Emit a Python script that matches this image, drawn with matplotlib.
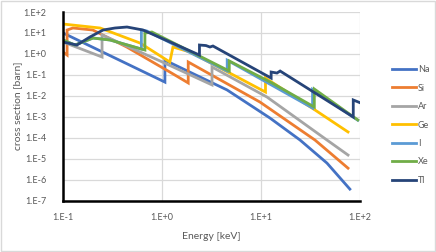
import matplotlib
matplotlib.use("Agg")
import matplotlib.pyplot as plt
from matplotlib.patches import Rectangle

plt.rcParams['font.family'] = ['Lato', 'DejaVu Sans']

# photoabsorption cross sections (energy keV, sigma barn)
na_e = [0.1, 1.07, 1.07, 4.54, 12.3, 24.8, 46.4, 79]
na_s = [10, 0.045, 0.5, 0.019, 8.7e-4, 7.7e-5, 6.1e-6, 3.5e-7]

si_e = [0.1, 0.11, 0.11, 0.126, 0.2, 0.44, 1.2, 1.84, 1.84, 9.77, 35.1, 75.7]
si_s = [1.23, 0.88, 13.8, 17.2, 13.8, 2.13, 0.136, 0.041, 0.41, 0.005, 7.7e-5, 3.5e-6]

ar_e = [0.1, 0.248, 0.248, 0.955, 3.2, 3.2, 11.5, 46.4, 75.7]
ar_s = [3.7, 0.71, 8.0, 0.46, 0.033, 0.236, 0.0087, 7.7e-5, 1.48e-5]

ge_e = [0.1, 0.237, 0.6, 1.2, 1.29, 1.92, 11.1, 11.1, 35.1, 75.7]
ge_s = [26.7, 17.2, 3.3, 0.41, 2.13, 1.23, 0.0151, 0.07, 0.0021, 1.87e-4]

i_e = [0.1, 0.132, 0.201, 0.299, 0.619, 0.619, 0.7, 4.557, 4.557, 33.17, 33.17, 95]
i_s = [4.6, 2.65, 5.7, 4.6, 1.7, 13.8, 12.5, 0.15, 0.5, 0.0026, 0.02, 6.8e-4]

xe_e = [0.1, 0.132, 0.201, 0.299, 0.672, 0.672, 0.79, 4.78, 4.78, 12.9, 34.56, 34.56, 95]
xe_s = [4.6, 2.65, 5.7, 4.6, 1.53, 9.9, 11.1, 0.152, 0.46, 0.041, 0.0029, 0.021, 7.0e-4]

tl_e = [0.1, 0.138, 0.187, 0.254, 0.335, 0.443, 0.643, 2.39, 2.39, 2.78, 3.05, 3.27,
        12.66, 12.66, 14.5, 15.6, 85.5, 85.5, 102]
tl_s = [3.7, 2.65, 6.4, 13.8, 17.2, 19.2, 13.8, 0.88, 2.65, 2.5, 2.13, 2.38,
        0.07, 0.136, 0.122, 0.152, 9.7e-4, 0.0063, 0.0045]

series = [
    ('Na', na_e, na_s, '#4472C4'),
    ('Si', si_e, si_s, '#ED7D31'),
    ('Ar', ar_e, ar_s, '#A5A5A5'),
    ('Ge', ge_e, ge_s, '#FFC000'),
    ('I', i_e, i_s, '#5B9BD5'),
    ('Xe', xe_e, xe_s, '#70AD47'),
    ('Tl', tl_e, tl_s, '#264478'),
]

x_ticks = [0.1, 1, 10, 100]
x_labels = ['1.E-1', '1.E+0', '1.E+1', '1.E+2']
y_ticks = [10.0 ** k for k in range(-7, 3)]
y_labels = ['1.E-7', '1.E-6', '1.E-5', '1.E-4', '1.E-3', '1.E-2', '1.E-1',
            '1.E+0', '1.E+1', '1.E+2']

fig = plt.figure(figsize=(4.36, 2.52), dpi=100)
fig.patches.append(Rectangle((0.002, 0.004), 0.996, 0.992, transform=fig.transFigure,
                             fill=False, edgecolor='#D9D9D9', lw=1))
ax = fig.add_axes([63 / 436, 1 - 200.5 / 252, 297 / 436, 188.5 / 252])

for name, e, s, c in series:
    ax.plot(e, s, color=c, lw=2.0, label=name, solid_joinstyle='miter')

ax.set_xscale('log')
ax.set_yscale('log')
ax.set_xlim(0.1, 100)
ax.set_ylim(1e-7, 100)
ax.set_xticks(x_ticks)
ax.set_xticklabels(x_labels)
ax.set_yticks(y_ticks)
ax.set_yticklabels(y_labels)
ax.minorticks_off()
ax.tick_params(length=0, labelsize=6.5, labelcolor='#595959')
ax.tick_params(axis='x', pad=9)
ax.tick_params(axis='y', pad=12)
ax.grid(True, color='#D9D9D9', lw=0.9)
ax.set_axisbelow(True)
for side in ['top', 'right']:
    ax.spines[side].set_visible(False)
for side in ['left', 'bottom']:
    ax.spines[side].set_linewidth(1.8)
    ax.spines[side].set_color('black')

ax.set_xlabel('Energy [keV]', fontsize=7.5, color='#595959', labelpad=7)
ax.set_ylabel('cross section [barn]', fontsize=7.5, color='#595959')
ax.yaxis.set_label_coords(-41 / 297, 0.5)

fig.legend(loc='center left', bbox_to_anchor=(384 / 436, 1 - 125 / 252), frameon=False,
           fontsize=6.5, handlelength=2.6, handletextpad=0.25, labelspacing=1.05,
           labelcolor='#595959')

fig.savefig('out.png', dpi=100)
